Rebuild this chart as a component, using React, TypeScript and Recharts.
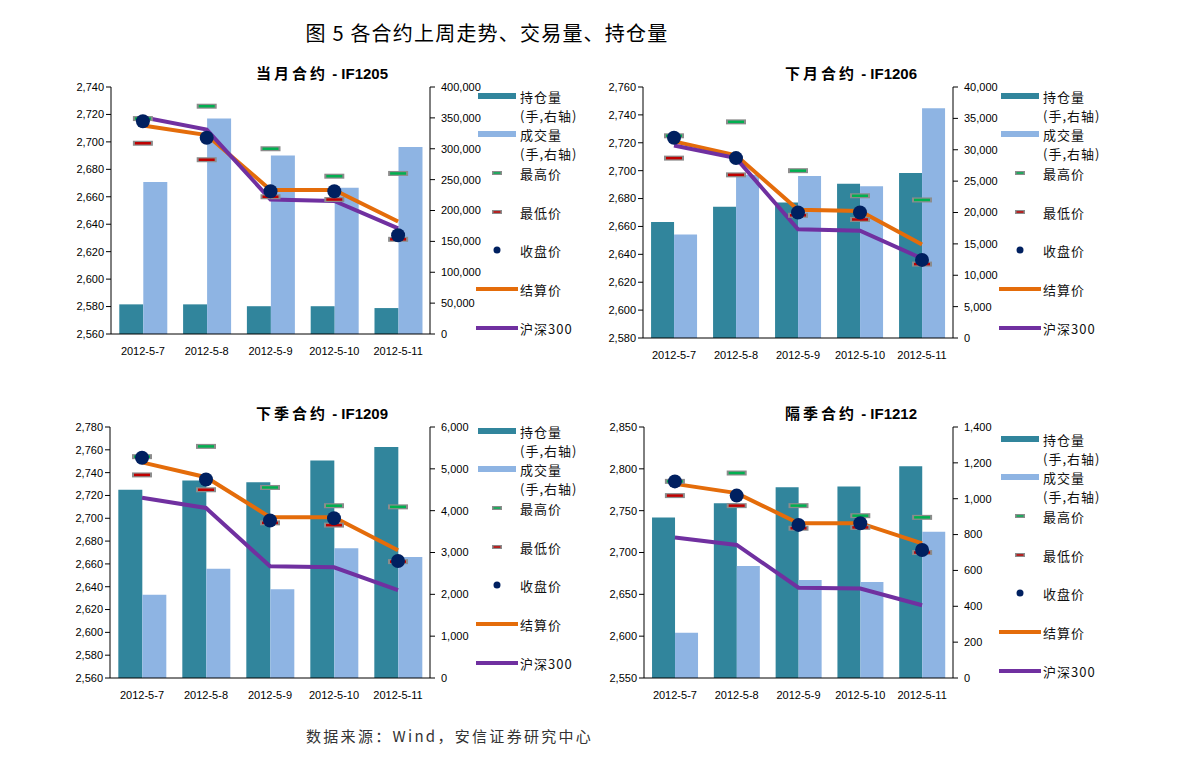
import React from "react";
import { ComposedChart, Bar, Line, XAxis, YAxis } from "recharts";

const dates = ["2012-5-7", "2012-5-8", "2012-5-9", "2012-5-10", "2012-5-11"];
const hs300 = [2718, 2709, 2658, 2657, 2637];

// IF1205
const oi1205 = [48000, 48000, 45000, 45000, 42000];
const vol1205 = [246000, 349000, 289000, 237000, 303000];
const high1205 = [2717, 2726, 2695, 2675, 2677];
const low1205 = [2699, 2687, 2660, 2658, 2629];
const close1205 = [2715, 2703, 2664, 2664, 2632];
const settle1205 = [2712, 2705, 2665, 2665, 2642];

// IF1206
const oi1206 = [18500, 20900, 21600, 24600, 26300];
const vol1206 = [16500, 26000, 25800, 24200, 36600];
const high1206 = [2725, 2735, 2700, 2682, 2679];
const low1206 = [2709, 2697, 2668, 2665, 2633];
const close1206 = [2723.6, 2709, 2670, 2670, 2636];
const settle1206 = [2721, 2711, 2672, 2671, 2647];

// IF1209
const oi1209 = [4500, 4720, 4680, 5200, 5520];
const vol1209 = [1990, 2610, 2120, 3100, 2890];
const high1209 = [2754, 2763, 2727, 2711, 2710];
const low1209 = [2738, 2725, 2696, 2694, 2662];
const close1209 = [2753, 2734, 2698, 2700, 2662.6];
const settle1209 = [2749, 2736, 2701, 2701, 2672];

// IF1212
const oi1212 = [895, 975, 1064, 1068, 1181];
const vol1212 = [252, 625, 547, 536, 816];
const high1212 = [2785, 2795, 2756, 2744, 2742];
const low1212 = [2768, 2756, 2729, 2730, 2700];
const close1212 = [2785, 2768, 2733, 2735, 2703];
const settle1212 = [2782, 2771, 2735, 2735, 2711];

const ticks1205L = [2560, 2580, 2600, 2620, 2640, 2660, 2680, 2700, 2720, 2740];
const ticks1205R = [0, 50000, 100000, 150000, 200000, 250000, 300000, 350000, 400000];
const ticks1206L = [2580, 2600, 2620, 2640, 2660, 2680, 2700, 2720, 2740, 2760];
const ticks1206R = [0, 5000, 10000, 15000, 20000, 25000, 30000, 35000, 40000];
const ticks1209L = [2560, 2580, 2600, 2620, 2640, 2660, 2680, 2700, 2720, 2740, 2760, 2780];
const ticks1209R = [0, 1000, 2000, 3000, 4000, 5000, 6000];
const ticks1212L = [2550, 2600, 2650, 2700, 2750, 2800, 2850];
const ticks1212R = [0, 200, 400, 600, 800, 1000, 1200, 1400];

const OI_COLOR = "#31859c";
const VOL_COLOR = "#8eb4e3";
const HIGH_COLOR = "#00b050";
const LOW_COLOR = "#c00000";
const CLOSE_COLOR = "#002060";
const SETTLE_COLOR = "#e46c0a";
const HS_COLOR = "#7030a0";

const fmt = (v: number) => v.toLocaleString("en-US");
const tickFont = { fontSize: 11, fill: "#000", fontFamily: "Liberation Sans, Arial, sans-serif" };
const cjk = '"Noto Sans CJK SC", sans-serif';

const barMark = (color: string) => (props: any) => {
  const { cx, cy, index } = props;
  if (cx == null || cy == null) return <g key={`e-${index}`} />;
  return (
    <g key={`m-${index}`}>
      <rect x={cx - 10} y={cy - 2.5} width={20} height={5} fill="#8c8c8c" />
      <rect x={cx - 8} y={cy - 1.25} width={16} height={2.5} fill={color} />
    </g>
  );
};

const closeDot = (props: any) => {
  const { cx, cy, index } = props;
  if (cx == null || cy == null) return <g key={`e-${index}`} />;
  return <circle key={`c-${index}`} cx={cx} cy={cy} r={7} fill={CLOSE_COLOR} />;
};

interface PanelProps {
  name: string;
  code: string;
  left: number;
  top: number;
  width: number;
  height: number;
  oi: number[];
  vol: number[];
  high: number[];
  low: number[];
  close: number[];
  settle: number[];
  leftTicks: number[];
  rightTicks: number[];
  titleX: number;
  titleY: number;
  legendY: number;
}

function Legend({ x, y }: { x: number; y: number }) {
  const rows = [
    { kind: "bar", color: OI_COLOR, label: "持仓量", sub: "(手,右轴)", dy: 0 },
    { kind: "bar", color: VOL_COLOR, label: "成交量", sub: "(手,右轴)", dy: 38 },
    { kind: "mark", color: HIGH_COLOR, label: "最高价", dy: 77 },
    { kind: "mark", color: LOW_COLOR, label: "最低价", dy: 116 },
    { kind: "dot", color: CLOSE_COLOR, label: "收盘价", dy: 154 },
    { kind: "line", color: SETTLE_COLOR, label: "结算价", dy: 193 },
    { kind: "line", color: HS_COLOR, label: "沪深300", dy: 232 },
  ];
  return (
    <div style={{ position: "absolute", left: x, top: y - 12, width: 130, height: 260 }}>
      <svg width={44} height={260} style={{ position: "absolute", left: 0, top: 0 }}>
        {rows.map((r) => {
          const cy = r.dy + 12;
          if (r.kind === "bar")
            return <rect key={r.label} x={2} y={cy - 3} width={38} height={6} fill={r.color} />;
          if (r.kind === "line")
            return <line key={r.label} x1={0} x2={42} y1={cy} y2={cy} stroke={r.color} strokeWidth={4} />;
          if (r.kind === "dot")
            return <circle key={r.label} cx={21} cy={cy} r={3.5} fill={r.color} />;
          return (
            <g key={r.label}>
              <rect x={16} y={cy - 2} width={10} height={4} fill="#8c8c8c" />
              <rect x={17.5} y={cy - 0.75} width={7} height={1.5} fill={r.color} />
            </g>
          );
        })}
      </svg>
      {rows.map((r) => (
        <div
          key={r.label}
          style={{
            position: "absolute",
            left: 44,
            top: r.dy + 3,
            fontFamily: cjk,
            fontSize: 13,
            lineHeight: "19px",
            letterSpacing: 1,
            color: "#111",
            whiteSpace: "nowrap",
          }}
        >
          <div>{r.label}</div>
          {r.sub && <div>{r.sub}</div>}
        </div>
      ))}
    </div>
  );
}

function Panel(p: PanelProps) {
  const rows = dates.map((d, i) => ({
    date: d,
    oi: p.oi[i],
    vol: p.vol[i],
    high: p.high[i],
    low: p.low[i],
    close: p.close[i],
    settle: p.settle[i],
    hs: hs300[i],
  }));
  const axisW = 70;
  const padTop = 20;
  const lt = p.leftTicks;
  const rt = p.rightTicks;
  return (
    <>
      <div
        style={{
          position: "absolute",
          left: p.titleX - 100,
          top: p.titleY - 11,
          width: 200,
          textAlign: "center",
          fontSize: 15,
          fontWeight: 700,
          lineHeight: "22px",
          color: "#000",
          whiteSpace: "nowrap",
        }}
      >
        <span style={{ fontFamily: cjk, letterSpacing: 3 }}>{p.name}</span>
        <span style={{ fontFamily: "Liberation Sans, Arial, sans-serif" }}> - {p.code}</span>
      </div>
      <div style={{ position: "absolute", left: p.left - axisW, top: p.top - padTop }}>
        <ComposedChart
          width={p.width + axisW * 2}
          height={p.height + padTop + 30}
          data={rows}
          margin={{ top: padTop, right: 0, left: 0, bottom: 0 }}
          barCategoryGap="13%"
          barGap={0}
        >
          <XAxis
            dataKey="date"
            interval={0}
            tickLine={false}
            tickSize={6}
            tickMargin={7}
            height={30}
            axisLine={{ stroke: "#000" }}
            tick={tickFont}
          />
          <YAxis
            yAxisId="left"
            width={axisW}
            domain={[lt[0], lt[lt.length - 1]]}
            ticks={lt}
            interval={0}
            tickFormatter={fmt}
            tickSize={5}
            tickMargin={2}
            axisLine={{ stroke: "#000" }}
            tickLine={{ stroke: "#000" }}
            tick={tickFont}
          />
          <YAxis
            yAxisId="right"
            orientation="right"
            width={axisW}
            domain={[rt[0], rt[rt.length - 1]]}
            ticks={rt}
            interval={0}
            tickFormatter={fmt}
            tickSize={5}
            tickMargin={6}
            axisLine={{ stroke: "#000" }}
            tickLine={{ stroke: "#000" }}
            tick={{ ...tickFont, textAnchor: "start" }}
          />
          <Bar yAxisId="right" dataKey="oi" fill={OI_COLOR} isAnimationActive={false} />
          <Bar yAxisId="right" dataKey="vol" fill={VOL_COLOR} isAnimationActive={false} />
          <Line
            yAxisId="left"
            dataKey="high"
            stroke="none"
            dot={barMark(HIGH_COLOR)}
            activeDot={false}
            isAnimationActive={false}
          />
          <Line
            yAxisId="left"
            dataKey="low"
            stroke="none"
            dot={barMark(LOW_COLOR)}
            activeDot={false}
            isAnimationActive={false}
          />
          <Line
            yAxisId="left"
            dataKey="settle"
            type="linear"
            stroke={SETTLE_COLOR}
            strokeWidth={4}
            dot={false}
            activeDot={false}
            isAnimationActive={false}
          />
          <Line
            yAxisId="left"
            dataKey="hs"
            type="linear"
            stroke={HS_COLOR}
            strokeWidth={4}
            dot={false}
            activeDot={false}
            isAnimationActive={false}
          />
          <Line
            yAxisId="left"
            dataKey="close"
            stroke="none"
            dot={closeDot}
            activeDot={false}
            isAnimationActive={false}
          />
        </ComposedChart>
      </div>
      <Legend x={p.left + p.width + 46} y={p.legendY} />
    </>
  );
}

export default function App() {
  return (
    <div
      style={{
        position: "absolute",
        left: 0,
        top: 0,
        width: 1191,
        height: 766,
        background: "#fff",
        overflow: "hidden",
      }}
    >
      <div
        style={{
          position: "absolute",
          left: 300,
          top: 20,
          width: 374,
          textAlign: "center",
          fontFamily: cjk,
          fontSize: 20,
          letterSpacing: 1.2,
          lineHeight: "26px",
          color: "#000",
          whiteSpace: "nowrap",
        }}
      >
        图 5 各合约上周走势、交易量、持仓量
      </div>

      <Panel
        name="当月合约"
        code="IF1205"
        left={111}
        top={87}
        width={319}
        height={247}
        oi={oi1205}
        vol={vol1205}
        high={high1205}
        low={low1205}
        close={close1205}
        settle={settle1205}
        leftTicks={ticks1205L}
        rightTicks={ticks1205R}
        titleX={322}
        titleY={73}
        legendY={96}
      />
      <Panel
        name="下月合约"
        code="IF1206"
        left={643}
        top={87}
        width={310}
        height={251}
        oi={oi1206}
        vol={vol1206}
        high={high1206}
        low={low1206}
        close={close1206}
        settle={settle1206}
        leftTicks={ticks1206L}
        rightTicks={ticks1206R}
        titleX={851}
        titleY={73}
        legendY={96}
      />
      <Panel
        name="下季合约"
        code="IF1209"
        left={110}
        top={427}
        width={320}
        height={251}
        oi={oi1209}
        vol={vol1209}
        high={high1209}
        low={low1209}
        close={close1209}
        settle={settle1209}
        leftTicks={ticks1209L}
        rightTicks={ticks1209R}
        titleX={322}
        titleY={413}
        legendY={431}
      />
      <Panel
        name="隔季合约"
        code="IF1212"
        left={644}
        top={427}
        width={309}
        height={251}
        oi={oi1212}
        vol={vol1212}
        high={high1212}
        low={low1212}
        close={close1212}
        settle={settle1212}
        leftTicks={ticks1212L}
        rightTicks={ticks1212R}
        titleX={851}
        titleY={413}
        legendY={439}
      />

      <div
        style={{
          position: "absolute",
          left: 306,
          top: 725,
          fontFamily: cjk,
          fontSize: 15,
          letterSpacing: 2.3,
          lineHeight: "22px",
          color: "#333",
          whiteSpace: "nowrap",
        }}
      >
        数据来源：Wind，安信证券研究中心
      </div>
    </div>
  );
}
